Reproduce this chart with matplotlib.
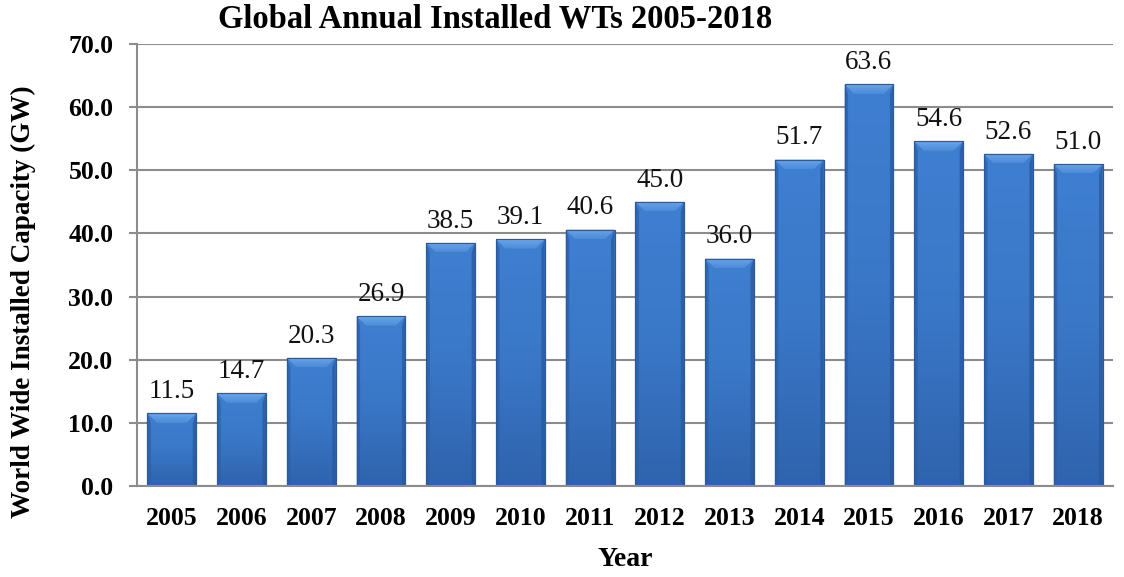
import numpy as np
import matplotlib
matplotlib.use("Agg")
import matplotlib.pyplot as plt
from matplotlib.patches import Polygon
from matplotlib.colors import LinearSegmentedColormap

years = ["2005", "2006", "2007", "2008", "2009", "2010", "2011",
         "2012", "2013", "2014", "2015", "2016", "2017", "2018"]
capacity = [11.5, 14.7, 20.3, 26.9, 38.5, 39.1, 40.6,
            45.0, 36.0, 51.7, 63.6, 54.6, 52.6, 51.0]
yticks = [0, 10, 20, 30, 40, 50, 60, 70]

plt.rcParams["font.family"] = ["Liberation Serif", "DejaVu Serif"]

fig = plt.figure(figsize=(11.24, 5.77), dpi=100)
ax = fig.add_axes([0.1219, 0.1577, 0.8683, 0.766])

x = np.arange(len(years))
width = 0.70
bars = ax.bar(x, capacity, width=width, color="#3a78c8", edgecolor="#2a5a9c",
              linewidth=0.8, zorder=2)

ax.set_xlim(-0.5, len(years) - 0.5)
ax.set_ylim(0, 70)

# vertical shading of the bar body (lighter at top, darker at base)
body_cmap = LinearSegmentedColormap.from_list("body", ["#2f63ad", "#3a77c7", "#3f7fd1"])
bevel_cmap = LinearSegmentedColormap.from_list("bevel", ["#4d8bd9", "#6aa6ec"])
vgrad = np.linspace(0, 1, 256).reshape(-1, 1)

fig.canvas.draw()
px_per_x = ax.transData.transform((1, 0))[0] - ax.transData.transform((0, 0))[0]
px_per_y = ax.transData.transform((0, 1))[1] - ax.transData.transform((0, 0))[1]
bev_px = 9.5
side_px = 3.5
for rect in bars:
    x0, w, h = rect.get_x(), rect.get_width(), rect.get_height()
    dx = bev_px / px_per_x
    dy = bev_px / px_per_y
    sx = side_px / px_per_x

    im = ax.imshow(vgrad, extent=(x0, x0 + w, 0, h), aspect="auto", origin="lower",
                   cmap=body_cmap, zorder=2.1, interpolation="bicubic")
    im.set_clip_path(rect)

    top = Polygon([(x0, h), (x0 + w, h), (x0 + w - dx, h - dy), (x0 + dx, h - dy)],
                  closed=True, facecolor="none", edgecolor="none", zorder=2.2)
    ax.add_patch(top)
    tim = ax.imshow(vgrad, extent=(x0, x0 + w, h - dy, h), aspect="auto", origin="lower",
                    cmap=bevel_cmap, zorder=2.2, interpolation="bicubic")
    tim.set_clip_path(top)

    left = Polygon([(x0, h), (x0 + sx, h - dy), (x0 + sx, sx * px_per_x / px_per_y), (x0, 0)],
                   closed=True, facecolor="#2b5ea6", edgecolor="none", zorder=2.2, alpha=0.7)
    right = Polygon([(x0 + w, h), (x0 + w - sx, h - dy),
                     (x0 + w - sx, sx * px_per_x / px_per_y), (x0 + w, 0)],
                    closed=True, facecolor="#27579a", edgecolor="none", zorder=2.2, alpha=0.7)
    ax.add_patch(left)
    ax.add_patch(right)
    edge = plt.Rectangle((x0, 0), w, h, fill=False, edgecolor="#2a5a9c",
                         linewidth=0.8, zorder=2.3)
    ax.add_patch(edge)

for xi, v in zip(x, capacity):
    ax.annotate(f"{v:.1f}", (xi, v), xytext=(0, 11), textcoords="offset points",
                ha="center", va="baseline", fontsize=19.5, color="#111111")

ax.set_yticks(yticks)
ax.set_yticklabels([f"{t:.1f}" for t in yticks], fontsize=18.5, fontweight="bold")
ax.set_xticks(x)
ax.set_xticklabels(years, fontsize=18.5, fontweight="bold")
ax.tick_params(axis="x", length=0, pad=15)
ax.tick_params(axis="y", length=6, width=1.5, color="#8c8c8c", pad=11)

ax.yaxis.grid(True, color="#8c8c8c", linewidth=1.5, zorder=0)
ax.set_axisbelow(True)
for s in ["top", "right"]:
    ax.spines[s].set_visible(False)
for s in ["left", "bottom"]:
    ax.spines[s].set_color("#8c8c8c")
    ax.spines[s].set_linewidth(1.5)

ax.set_xlabel("Year", fontsize=20, fontweight="bold", labelpad=12)
ax.set_ylabel("World Wide Installed Capacity (GW)", fontsize=19.5,
              fontweight="bold")
ax.yaxis.set_label_coords(-0.1035, 0.416)
ax.set_title("Global Annual Installed WTs 2005-2018", fontsize=23.5,
             fontweight="bold", pad=12, x=0.367)

fig.savefig("out.png", dpi=100)
